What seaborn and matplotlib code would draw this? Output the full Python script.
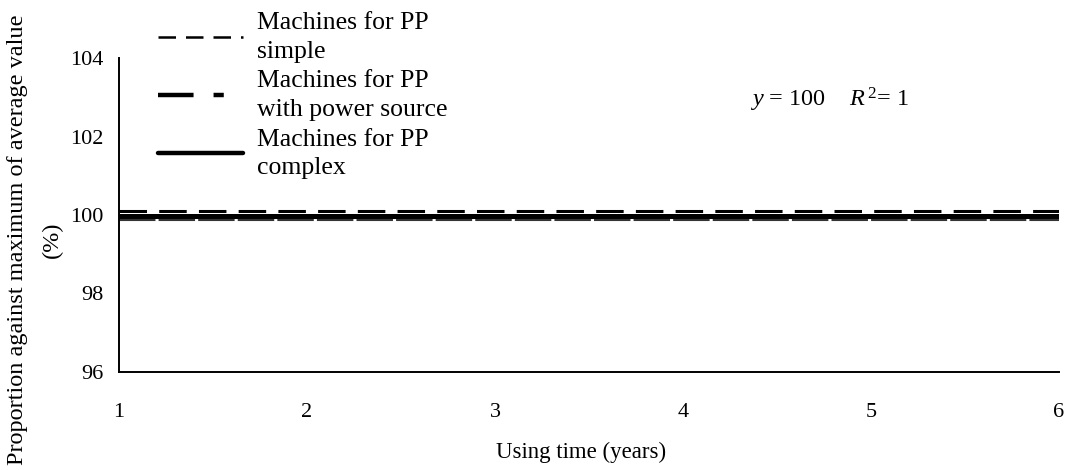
import matplotlib
matplotlib.use("Agg")
import matplotlib.pyplot as plt
from matplotlib.lines import Line2D
import seaborn as sns
import pandas as pd

# ---- data ----
years = [1, 2, 3, 4, 5, 6]
simple = [99.88, 99.88, 99.88, 99.88, 99.88, 99.88]
power_source = [100.10, 100.10, 100.10, 100.10, 100.10, 100.10]
complex_ = [99.98, 99.98, 99.98, 99.98, 99.98, 99.98]
labels = ["Machines for PP\nsimple", "Machines for PP\nwith power source", "Machines for PP\ncomplex"]
x_ticks = [1, 2, 3, 4, 5, 6]
y_ticks = [96, 98, 100, 102, 104]
equation = r"$y$ = 100    $R^{\,2}$= 1"

sns.set_theme(style="white")
plt.rcParams["font.family"] = ["Liberation Serif", "DejaVu Serif"]
plt.rcParams["mathtext.fontset"] = "custom"
plt.rcParams["mathtext.rm"] = "Liberation Serif"
plt.rcParams["mathtext.it"] = "Liberation Serif:italic"

fig = plt.figure(figsize=(10.66, 4.70), dpi=100)
ax = fig.add_axes([119 / 1066, 1 - 372 / 470, 940 / 1066, 314 / 470])

df = pd.DataFrame({"x": years, "simple": simple, "power": power_source, "complex": complex_})

sns.lineplot(data=df, x="x", y="power", ax=ax, color="black", lw=2.2)
ax.lines[-1].set_dashes([9, 4])
sns.lineplot(data=df, x="x", y="complex", ax=ax, color="black", lw=3.6)
sns.lineplot(data=df, x="x", y="simple", ax=ax, color="#333333", lw=1.5)
ax.lines[-1].set_dashes([17.5, 1.5])

ax.set_xlim(1, 6)
ax.set_ylim(96, 104)
ax.set_xticks(x_ticks)
ax.set_yticks(y_ticks)
ax.set_xticklabels([str(v) for v in x_ticks])
ax.set_yticklabels([str(v) for v in y_ticks])

for s in ["top", "right"]:
    ax.spines[s].set_visible(False)
for s in ["left", "bottom"]:
    ax.spines[s].set_linewidth(1.4)
    ax.spines[s].set_color("black")

ax.tick_params(axis="both", which="major", direction="out", length=6.5, width=1.4,
               colors="black", labelsize=16)
ax.tick_params(axis="x", pad=16)
ax.tick_params(axis="y", pad=5)
ax.grid(False)

ax.set_xlabel("Using time (years)", fontsize=16.5, color="black")
ax.xaxis.label.set_va("center")
ax.xaxis.set_label_coords(0.4915, -0.255)

ax.set_ylabel("Proportion against maximum of average value\n(%)", fontsize=17.5,
              color="black", linespacing=1.8)
ax.yaxis.label.set_va("center")
ax.yaxis.set_label_coords(-0.0895, 0.42)

ax.text(0.671, 0.866, equation, transform=ax.transAxes, fontsize=17.5,
        ha="left", va="center", color="black")

handles = [
    Line2D([], [], color="black", lw=1.8, dashes=[7.0, 4.0]),
    Line2D([], [], color="black", lw=3.2, dashes=[8.0, 4.5, 2.3, 30]),
    Line2D([], [], color="black", lw=3.2, solid_capstyle="round"),
]
leg = fig.legend(handles, labels, loc="upper left",
                 bbox_to_anchor=(158 / 1066, 1 - 12 / 470),
                 frameon=False, fontsize=18.5, handlelength=3.3,
                 handletextpad=0.55, labelspacing=0.29, borderpad=0,
                 borderaxespad=0)
for t in leg.get_texts():
    t.set_color("black")
    t.set_linespacing(1.4)

fig.savefig("out.png", dpi=100)
